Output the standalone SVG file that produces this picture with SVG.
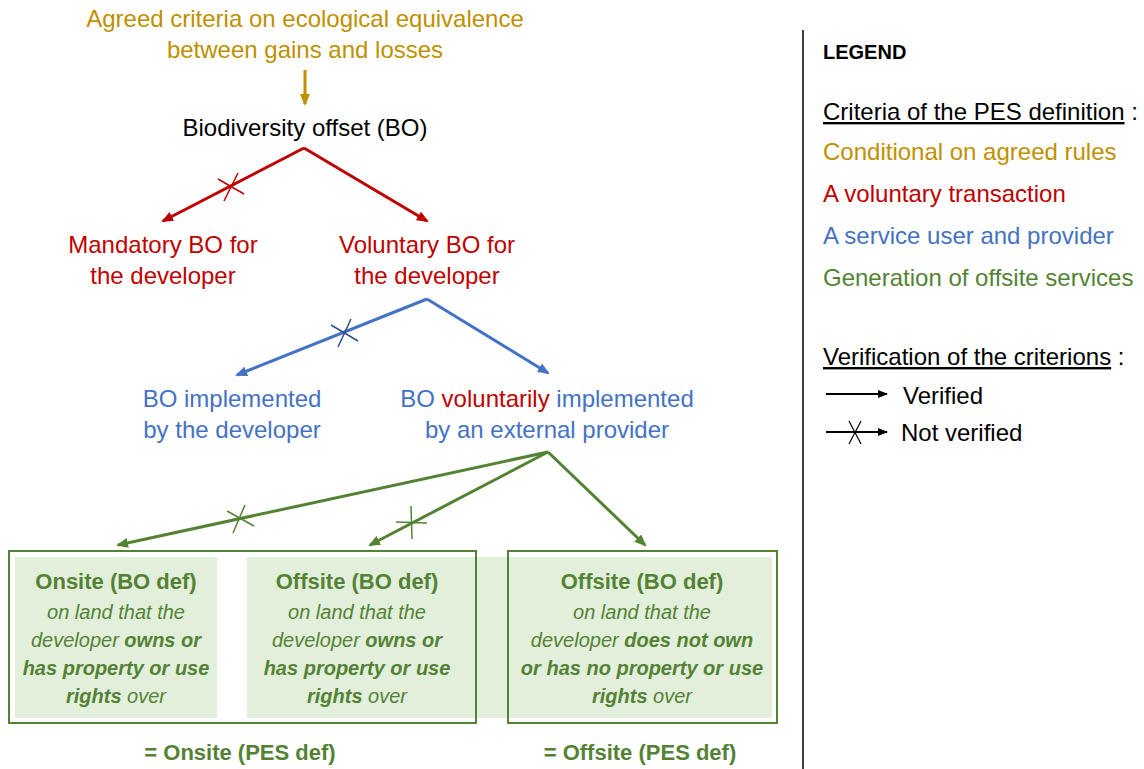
<svg xmlns="http://www.w3.org/2000/svg" width="1144" height="769" viewBox="0 0 1144 769">
<style>
text{font-family:"Liberation Sans",Arial,sans-serif;}
.m{font-size:24px;text-anchor:middle;}
.gold{fill:#BF9000;}
.red{fill:#C00000;}
.blue{fill:#4472C4;}
.grn{fill:#548235;}
.bt{font-size:22px;font-weight:bold;text-anchor:middle;fill:#548235;}
.bi{font-size:20px;font-style:italic;text-anchor:middle;fill:#548235;}
.b{font-weight:bold;}
.lg{font-size:24px;}
.fill{fill:#E2EFDA;}
.box{fill:none;stroke:#548235;stroke-width:2;}
</style>
<defs>
<marker id="aG" markerUnits="userSpaceOnUse" markerWidth="12" markerHeight="10" refX="10" refY="5" orient="auto"><path d="M0,0 L12,5 L0,10 z" fill="#BF9000"/></marker>
<marker id="aR" markerUnits="userSpaceOnUse" markerWidth="12" markerHeight="10" refX="10" refY="5" orient="auto"><path d="M0,0 L12,5 L0,10 z" fill="#C00000"/></marker>
<marker id="aB" markerUnits="userSpaceOnUse" markerWidth="12" markerHeight="10" refX="10" refY="5" orient="auto"><path d="M0,0 L12,5 L0,10 z" fill="#4472C4"/></marker>
<marker id="aN" markerUnits="userSpaceOnUse" markerWidth="12" markerHeight="10" refX="10" refY="5" orient="auto"><path d="M0,0 L12,5 L0,10 z" fill="#548235"/></marker>
<marker id="aK" markerUnits="userSpaceOnUse" markerWidth="10" markerHeight="8" refX="9" refY="4" orient="auto"><path d="M0,0 L10,4 L0,8 z" fill="#000"/></marker>
</defs>

<g id="criteria">
<text class="m gold" x="305" y="27">Agreed criteria on ecological equivalence</text>
<text class="m gold" x="305" y="58">between gains and losses</text>
</g>
<g id="bo">
<text class="m" x="305" y="136" fill="#000">Biodiversity offset (BO)</text>
</g>
<g id="mandatory">
<text class="m red" x="163" y="253">Mandatory BO for</text>
<text class="m red" x="163" y="284">the developer</text>
</g>
<g id="voluntary">
<text class="m red" x="427" y="253">Voluntary BO for</text>
<text class="m red" x="427" y="284">the developer</text>
</g>
<g id="impl-dev">
<text class="m blue" x="232" y="407">BO implemented</text>
<text class="m blue" x="232" y="438">by the developer</text>
</g>
<g id="impl-ext">
<text class="m blue" x="547" y="407">BO <tspan class="red">voluntarily</tspan> implemented</text>
<text class="m blue" x="547" y="438">by an external provider</text>
</g>

<g id="boxes-fill">
<rect class="fill" x="15" y="557" width="202" height="161"/>
<rect class="fill" x="247" y="557" width="525" height="161"/>
</g>
<g id="onsite-bo">
<rect class="box" x="9" y="551" width="467" height="172"/>
<text class="bt" x="116" y="589">Onsite (BO def)</text>
<text class="bi" x="116" y="619">on land that the</text>
<text class="bi" x="116" y="647">developer <tspan class="b">owns or</tspan></text>
<text class="bi b" x="116" y="675">has property or use</text>
<text class="bi" x="116" y="703"><tspan class="b">rights</tspan> over</text>
</g>
<g id="offsite-bo-1">
<text class="bt" x="357" y="589">Offsite (BO def)</text>
<text class="bi" x="357" y="619">on land that the</text>
<text class="bi" x="357" y="647">developer <tspan class="b">owns or</tspan></text>
<text class="bi b" x="357" y="675">has property or use</text>
<text class="bi" x="357" y="703"><tspan class="b">rights</tspan> over</text>
</g>
<g id="offsite-bo-2">
<rect class="box" x="508" y="551" width="269" height="172"/>
<text class="bt" x="642" y="589">Offsite (BO def)</text>
<text class="bi" x="642" y="619">on land that the</text>
<text class="bi" x="642" y="647">developer <tspan class="b">does not own</tspan></text>
<text class="bi b" x="642" y="675">or has no property or use</text>
<text class="bi" x="642" y="703"><tspan class="b">rights</tspan> over</text>
</g>
<g id="onsite-pes">
<text class="bt" x="240" y="760">= Onsite (PES def)</text>
</g>
<g id="offsite-pes">
<text class="bt" x="640" y="760">= Offsite (PES def)</text>
</g>

<g id="connectors" fill="none" stroke-width="3">
<line x1="305" y1="70" x2="305" y2="104" stroke="#BF9000" marker-end="url(#aG)"/>
<line x1="304" y1="148" x2="163" y2="221" stroke="#C00000" marker-end="url(#aR)"/>
<line x1="304" y1="148" x2="427" y2="221" stroke="#C00000" marker-end="url(#aR)"/>
<path d="M218,179 L244,194 M238,173 L224,201" stroke="#C00000" stroke-width="1.5"/>
<line x1="427" y1="299" x2="237" y2="375" stroke="#4472C4" marker-end="url(#aB)"/>
<line x1="427" y1="299" x2="548" y2="373" stroke="#4472C4" marker-end="url(#aB)"/>
<path d="M331,325 L358,341 M351,319 L338,347" stroke="#2F4F8F" stroke-width="1.5"/>
<line x1="548" y1="452" x2="118" y2="545" stroke="#548235" marker-end="url(#aN)"/>
<line x1="548" y1="452" x2="370" y2="545" stroke="#548235" marker-end="url(#aN)"/>
<line x1="548" y1="452" x2="645" y2="545" stroke="#548235" marker-end="url(#aN)"/>
<path d="M227,511 L254,526 M245,505 L233,533" stroke="#548235" stroke-width="1.5"/>
<path d="M396,522 L427,523 M411,506 L412,539" stroke="#548235" stroke-width="1.5"/>
</g>

<g id="divider">
<line x1="803" y1="30" x2="803" y2="769" stroke="#000" stroke-width="1.5"/>
</g>

<g id="legend">
<text x="823" y="59" font-size="20" font-weight="bold" fill="#000">LEGEND</text>
<text class="lg" x="823" y="120" fill="#000"><tspan text-decoration="underline">Criteria of the PES definition</tspan> :</text>
<text class="lg gold" x="823" y="160">Conditional on agreed rules</text>
<text class="lg red" x="823" y="202">A voluntary transaction</text>
<text class="lg blue" x="823" y="244">A service user and provider</text>
<text class="lg grn" x="823" y="286">Generation of offsite services</text>
<text class="lg" x="823" y="365" fill="#000"><tspan text-decoration="underline">Verification of the criterions</tspan> :</text>
<line x1="826" y1="394" x2="887" y2="394" stroke="#000" stroke-width="2" marker-end="url(#aK)"/>
<text class="lg" x="903" y="404" fill="#000">Verified</text>
<line x1="826" y1="432" x2="887" y2="432" stroke="#000" stroke-width="2" marker-end="url(#aK)"/>
<path d="M849,421 L861,444 M861,421 L849,444" stroke="#000" stroke-width="1.2"/>
<text class="lg" x="901" y="441" fill="#000">Not verified</text>
</g>
</svg>
